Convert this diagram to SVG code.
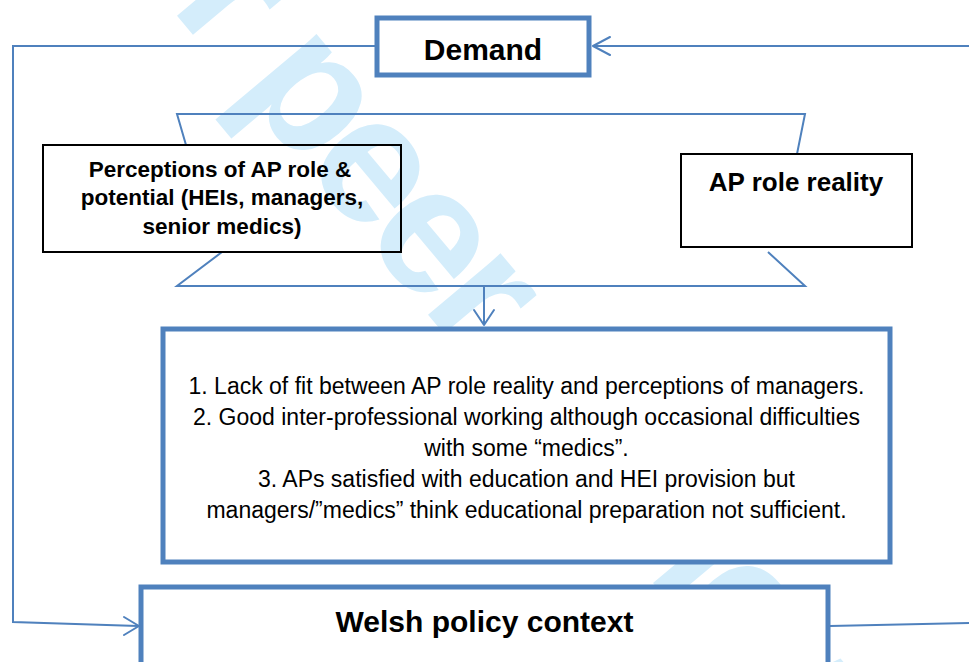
<svg xmlns="http://www.w3.org/2000/svg" width="969" height="662" viewBox="0 0 969 662">
<defs>
<style>
.wm{font-family:"Liberation Sans",Arial,sans-serif;font-weight:bold;font-size:180px;letter-spacing:-8px;fill:#d4edfb}
.conn{fill:none;stroke:#4f81bd;stroke-width:2}
.head{fill:none;stroke:#4f81bd;stroke-width:2;stroke-linecap:round;stroke-linejoin:round}
.bluebox{fill:#fff;stroke:#4f81bd;stroke-width:5}
.blackbox{fill:none;stroke:#000;stroke-width:2}
.t{font-family:"Liberation Sans",Arial,sans-serif;fill:#000;text-anchor:middle}
.b{font-weight:bold}
</style>
</defs>
<rect width="969" height="662" fill="#fff"/>
<text class="wm" transform="translate(38,-150) rotate(50)">For peer review only</text>
<g id="connectors">
<polyline class="conn" points="377,46 13,46 13,622 138,626"/>
<polyline class="head" points="124,617 139,626 124,635"/>
<line class="conn" x1="969" y1="46" x2="594" y2="46"/>
<polyline class="head" points="610,37 593,46 610,55"/>
<polyline class="conn" points="186,145 177,114 805,114 797,154"/>
<polyline class="conn" points="222,252 177,286 805,286 768,252"/>
<line class="conn" x1="484" y1="286" x2="484" y2="325"/>
<polyline class="head" points="474,310 484,325 494,310"/>
<line class="conn" x1="830" y1="626" x2="969" y2="623"/>
</g>
<g id="demand">
<rect class="bluebox" x="377" y="18" width="212" height="57"/>
<text class="t b" x="483" y="60" font-size="30">Demand</text>
</g>
<g id="perceptions">
<rect class="blackbox" x="43" y="145" width="358" height="107"/>
<text class="t b" x="220" y="177" font-size="22.5">Perceptions of AP role &amp;</text>
<text class="t b" x="222" y="205" font-size="22.5">potential (HEIs, managers,</text>
<text class="t b" x="222" y="234" font-size="22.5">senior medics)</text>
</g>
<g id="reality">
<rect class="blackbox" x="681" y="154" width="231" height="93"/>
<text class="t b" x="796" y="191" font-size="26">AP role reality</text>
</g>
<g id="findings">
<rect class="bluebox" x="163" y="329" width="727" height="233"/>
<text class="t" x="526.5" y="394" font-size="23">1. Lack of fit between AP role reality and perceptions of managers.</text>
<text class="t" x="526.5" y="425" font-size="23">2. Good inter-professional working although occasional difficulties</text>
<text class="t" x="526.5" y="456" font-size="23">with some “medics”.</text>
<text class="t" x="526.5" y="487" font-size="23">3. APs satisfied with education and HEI provision but</text>
<text class="t" x="526.5" y="518" font-size="23">managers/”medics” think educational preparation not sufficient.</text>
</g>
<g id="welsh">
<rect class="bluebox" x="141" y="587" width="687" height="90"/>
<text class="t b" x="484.5" y="632" font-size="30">Welsh policy context</text>
</g>
</svg>
